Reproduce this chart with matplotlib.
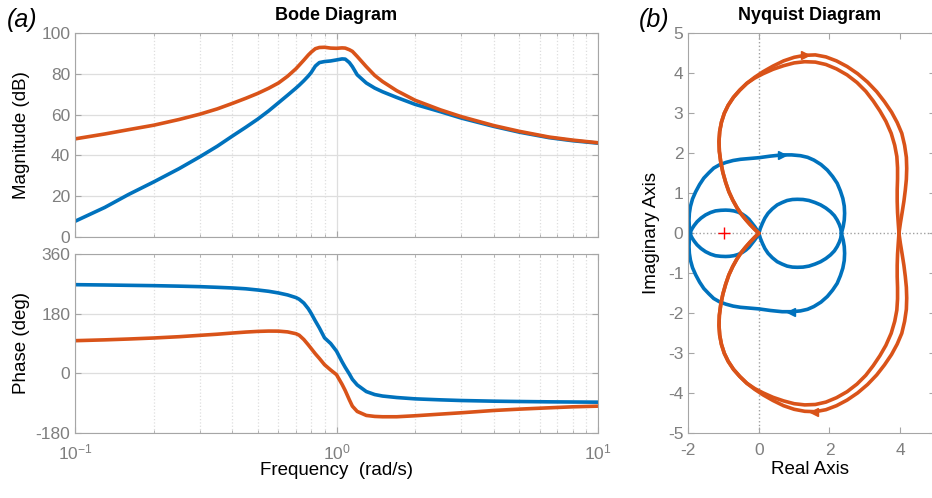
import numpy as np
import matplotlib.pyplot as plt
from matplotlib.ticker import LogLocator, NullFormatter

plt.rcParams['font.family'] = ['Liberation Sans', 'DejaVu Sans']
plt.rcParams['mathtext.fontset'] = 'custom'
plt.rcParams['mathtext.rm'] = 'Liberation Sans'
plt.rcParams['mathtext.it'] = 'Liberation Sans:italic'
plt.rcParams['axes.unicode_minus'] = False

BLUE = '#0072BD'
ORANGE = '#D95319'
EDGE = '#a6a6a6'
TICKTXT = '#7f7f7f'
GRID = '#dedede'
LW = 2.6

# ---------------- bode data (rad/s, dB, deg)
freq = [0.1, 0.13, 0.16, 0.2, 0.25, 0.3, 0.35, 0.4, 0.45, 0.5, 0.55, 0.6, 0.65,
        0.7, 0.72, 0.75, 0.78, 0.8, 0.83, 0.86, 0.9, 0.95, 1.0, 1.05, 1.08, 1.12, 1.15, 1.2,
        1.3, 1.4, 1.5, 1.7, 2.0, 2.5, 3.0, 4.0, 5.0, 6.5, 8.0, 10.0]

mag_blue = [7.7, 14.5, 20.8, 27.0, 33.5, 39.3, 44.5, 49.5, 53.8, 57.8, 61.8, 65.8, 69.5,
            73.0, 74.4, 76.6, 78.9, 80.6, 83.8, 85.5, 86.0, 86.3, 86.8, 87.3, 87.2, 85.5, 83.5, 79.5,
            75.5, 73.0, 71.2, 68.4, 65.0, 61.4, 58.3, 54.2, 51.4, 48.7, 47.2, 46.0]

mag_orange = [48.1, 50.5, 52.6, 54.8, 57.6, 60.2, 62.8, 65.5, 68.0, 70.4, 72.9, 75.5, 78.8,
              82.5, 84.2, 86.7, 89.2, 90.6, 92.3, 92.9, 93.0, 92.6, 92.5, 92.7, 92.6, 91.8, 91.0, 88.5,
              83.5, 79.2, 76.2, 71.7, 67.0, 62.3, 59.0, 54.6, 51.8, 49.0, 47.5, 46.2]

phase_blue = [267.5, 266.5, 265.5, 264.5, 263.0, 261.5, 259.5, 257.5, 255.0, 251.4, 247.5, 242.5, 236.5,
              228.5, 223.5, 212.0, 195.0, 181.0, 158.0, 137.0, 107.0, 90.0, 67.0, 35.0, 18.0, -2.0, -18.0, -35.0,
              -55.0, -64.0, -68.5, -73.0, -77.0, -80.0, -82.0, -84.0, -85.0, -86.0, -86.5, -87.0]

phase_orange = [98.5, 101.0, 103.5, 106.6, 110.5, 114.6, 118.0, 121.6, 124.5, 126.5, 127.5, 127.3, 125.0,
                119.5, 115.0, 102.0, 86.0, 75.0, 59.0, 45.0, 26.0, 10.0, -4.0, -33.0, -52.0, -80.0, -99.0, -115.0,
                -127.0, -130.0, -131.0, -131.0, -128.0, -123.0, -119.0, -112.0, -108.0, -104.0, -101.0, -99.0]

# ---------------- nyquist data, upper half (lower half is the conjugate)
blue_inner_x = [0.0, -0.05, -0.12, -0.2, -0.28, -0.37, -0.47, -0.59, -0.71, -0.83, -0.94,
                -1.08, -1.23, -1.37, -1.51, -1.64, -1.75, -1.83, -1.89, -1.93, -1.94]
blue_inner_y = [0.0, 0.08, 0.17, 0.26, 0.35, 0.42, 0.48, 0.53, 0.56, 0.575, 0.58,
                0.575, 0.56, 0.52, 0.46, 0.38, 0.29, 0.2, 0.12, 0.05, 0.0]

blue_right_x = [0.0, 0.04, 0.1, 0.17, 0.26, 0.38, 0.52, 0.66, 0.8, 0.95, 1.09, 1.25, 1.42,
                1.59, 1.75, 1.9, 2.03, 2.14, 2.22, 2.28, 2.32, 2.34]
blue_right_y = [0.0, 0.12, 0.25, 0.38, 0.5, 0.61, 0.71, 0.77, 0.82, 0.845, 0.85, 0.845, 0.82,
                0.77, 0.71, 0.63, 0.54, 0.44, 0.33, 0.22, 0.12, 0.0]

blue_outer_x = [-1.94, -1.97, -1.98, -1.97, -1.94, -1.88, -1.79, -1.68, -1.56, -1.42, -1.28,
                -1.12, -0.94, -0.73, -0.52, -0.26, 0.0, 0.33, 0.66, 0.93, 1.18, 1.38, 1.56,
                1.76, 1.94, 2.09, 2.22, 2.31, 2.38, 2.42, 2.43, 2.42, 2.39, 2.36, 2.34]
blue_outer_y = [0.0, 0.16, 0.33, 0.5, 0.67, 0.86, 1.04, 1.22, 1.38, 1.51, 1.63,
                1.71, 1.77, 1.82, 1.85, 1.87, 1.89, 1.93, 1.96, 1.96, 1.94, 1.9, 1.83,
                1.72, 1.58, 1.42, 1.25, 1.06, 0.87, 0.68, 0.5, 0.33, 0.17, 0.07, 0.0]

orange_outer_x = [0.0, -0.12, -0.25, -0.38, -0.5, -0.62, -0.74, -0.85, -0.94, -1.02, -1.08,
                  -1.12, -1.13, -1.11, -1.06, -0.98, -0.87, -0.72, -0.54, -0.34, -0.12, 0.12,
                  0.4, 0.7, 1.0, 1.3, 1.6, 1.9, 2.2, 2.5, 2.8, 3.08, 3.34, 3.56, 3.76, 3.92,
                  4.05, 4.13, 4.18, 4.19, 4.18, 4.15, 4.11, 4.06, 4.01, 3.97]
orange_outer_y = [0.0, 0.1, 0.22, 0.35, 0.48, 0.64, 0.83, 1.04, 1.27, 1.52, 1.78,
                  2.05, 2.3, 2.55, 2.78, 3.0, 3.2, 3.4, 3.58, 3.75, 3.9, 4.04,
                  4.18, 4.31, 4.4, 4.45, 4.46, 4.41, 4.31, 4.17, 3.99, 3.78, 3.54, 3.29, 3.03, 2.77,
                  2.5, 2.2, 1.9, 1.62, 1.35, 1.08, 0.8, 0.52, 0.25, 0.0]

orange_inner_x = [0.0, -0.12, -0.25, -0.38, -0.5, -0.62, -0.74, -0.85, -0.94, -1.02, -1.08,
                  -1.12, -1.13, -1.11, -1.06, -0.98, -0.87, -0.72, -0.54, -0.34, -0.12, 0.12,
                  0.4, 0.7, 1.0, 1.3, 1.6, 1.9, 2.2, 2.5, 2.78, 3.03, 3.24, 3.43, 3.6, 3.75,
                  3.85, 3.91, 3.93, 3.93, 3.92, 3.92, 3.93, 3.95, 3.97]
orange_inner_y = [0.0, 0.1, 0.22, 0.35, 0.48, 0.64, 0.83, 1.04, 1.27, 1.52, 1.78,
                  2.05, 2.3, 2.55, 2.78, 3.0, 3.2, 3.4, 3.58, 3.75, 3.88, 3.99,
                  4.1, 4.19, 4.26, 4.29, 4.28, 4.22, 4.11, 3.96, 3.77, 3.55, 3.31, 3.06, 2.8, 2.5,
                  2.2, 1.92, 1.64, 1.36, 1.08, 0.8, 0.52, 0.25, 0.0]

# arrow heads: (x, y, marker, colour)
arrows = [(0.66, 1.96, '>', BLUE), (0.9, -1.96, '<', BLUE),
          (1.3, 4.45, '>', ORANGE), (1.55, -4.46, '<', ORANGE)]


def matlab_style(ax):
    for s in ax.spines.values():
        s.set_color(EDGE)
        s.set_linewidth(0.8)
    ax.tick_params(which='both', direction='in', top=True, right=True,
                   color=EDGE, labelcolor=TICKTXT, labelsize=12.5)
    ax.tick_params(which='major', length=4)
    ax.tick_params(which='minor', length=2.5)
    ax.set_axisbelow(True)


def bode_grid(ax):
    ax.set_xscale('log')
    ax.set_xlim(0.1, 10)
    ax.xaxis.set_major_locator(LogLocator(base=10))
    ax.xaxis.set_minor_locator(LogLocator(base=10, subs=np.arange(2, 10)))
    ax.xaxis.set_minor_formatter(NullFormatter())
    ax.grid(which='major', color=GRID, lw=0.9, ls='-')
    ax.grid(which='minor', axis='x', color=GRID, lw=0.9, ls=':')


fig = plt.figure(figsize=(9.32, 4.98), dpi=100)
W, H = 932.0, 498.0

# magnitude
ax_m = fig.add_axes([75 / W, 1 - 237 / H, 523 / W, 204 / H])
matlab_style(ax_m)
bode_grid(ax_m)
ax_m.plot(freq, mag_blue, color=BLUE, lw=LW, solid_joinstyle='round')
ax_m.plot(freq, mag_orange, color=ORANGE, lw=LW, solid_joinstyle='round')
ax_m.set_ylim(0, 100)
ax_m.set_yticks([0, 20, 40, 60, 80, 100])
ax_m.tick_params(labelbottom=False)

# phase
ax_p = fig.add_axes([75 / W, 1 - 433 / H, 523 / W, 179 / H])
matlab_style(ax_p)
bode_grid(ax_p)
ax_p.plot(freq, phase_blue, color=BLUE, lw=LW, solid_joinstyle='round')
ax_p.plot(freq, phase_orange, color=ORANGE, lw=LW, solid_joinstyle='round')
ax_p.set_ylim(-180, 360)
ax_p.set_yticks([-180, 0, 180, 360])
ax_p.tick_params(axis='x', pad=7)

# nyquist
ax_n = fig.add_axes([688.3 / W, 1 - 433.3 / H, 247 / W, 400 / H])
matlab_style(ax_n)
ax_n.axhline(0, color='#a0a0a0', ls=':', lw=1.0, zorder=0)
ax_n.axvline(0, color='#a0a0a0', ls=':', lw=1.0, zorder=0)
for xs, ys, c in [(blue_inner_x, blue_inner_y, BLUE), (blue_right_x, blue_right_y, BLUE),
                  (blue_outer_x, blue_outer_y, BLUE), (orange_outer_x, orange_outer_y, ORANGE),
                  (orange_inner_x, orange_inner_y, ORANGE)]:
    xs = np.array(xs)
    ys = np.array(ys)
    ax_n.plot(xs, ys, color=c, lw=LW, solid_joinstyle='round', solid_capstyle='round')
    ax_n.plot(xs, -ys, color=c, lw=LW, solid_joinstyle='round', solid_capstyle='round')
for x, y, m, c in arrows:
    ax_n.plot(x, y, marker=m, color=c, ms=6)
ax_n.plot(-1, 0, marker='+', color='red', ms=9, mew=1.0)
ax_n.set_xlim(-2, 5)
ax_n.set_ylim(-5, 5)
ax_n.set_xticks([-2, 0, 2, 4])
ax_n.set_yticks(range(-5, 6))
ax_n.tick_params(axis='x', pad=7)

# titles and labels
fig.text(336 / W, 1 - 15 / H, 'Bode Diagram', ha='center', va='center',
         fontsize=13, fontweight='bold')
fig.text(810 / W, 1 - 16 / H, 'Nyquist Diagram', ha='center', va='center',
         fontsize=13, fontweight='bold')
fig.text(22 / W, 1 - 20 / H, '(a)', ha='center', va='center', fontsize=18, style='italic')
fig.text(654 / W, 1 - 20 / H, '(b)', ha='center', va='center', fontsize=18, style='italic')
fig.text(336 / W, 1 - 470 / H, 'Frequency  (rad/s)', ha='center', va='center', fontsize=13.5)
fig.text(810 / W, 1 - 469 / H, 'Real Axis', ha='center', va='center', fontsize=13.5)
fig.text(22 / W, 1 - 135 / H, 'Magnitude (dB)', ha='center', va='center', rotation=90, fontsize=13.5)
fig.text(22 / W, 1 - 343 / H, 'Phase (deg)', ha='center', va='center', rotation=90, fontsize=13.5)
fig.text(651 / W, 1 - 233 / H, 'Imaginary Axis', ha='center', va='center', rotation=90, fontsize=13.5)

fig.savefig('out.png', dpi=100)
